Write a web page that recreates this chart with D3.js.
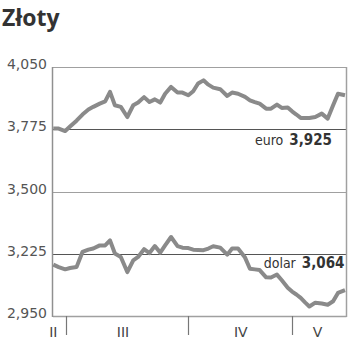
<!DOCTYPE html>
<html>
<head>
<meta charset="utf-8">
<script src="https://cdn.jsdelivr.net/npm/d3@7"></script>
<style>
    body { margin: 0; background: #fff; }
    svg { display: block; }
</style>
</head>
<body>
<svg class="chart_svg" width="350" height="351"></svg>
<script>
/* Sesje (pozycja notowania na osi czasu) */
let sesje = [0, 1, 2.2, 3.1, 4.3, 5.4, 6.5, 7.4, 8.6, 9.6, 10.5, 11.4, 12.5, 13.7, 14.8, 15.7, 16.8, 17.8, 18.8, 19.8,
    20.7, 21.8, 23, 23.9, 25, 25.9, 26.8, 27.8, 28.7, 29.6, 30.9, 32.2, 33.1, 34.2, 35.5, 36.4, 37.3, 38.2, 39.4, 40.3,
    41.4, 42.3, 43.4, 44.2, 45, 45.8, 46.6, 47.4, 48.5, 49.7, 50.8, 51.8, 52.7, 54];

/* Kursy */
let euro = [3.778, 3.778, 3.767, 3.787, 3.813, 3.840, 3.862, 3.874, 3.888, 3.898, 3.940, 3.881, 3.874, 3.829, 3.881, 3.893, 3.917, 3.895, 3.907, 3.893,
    3.932, 3.962, 3.937, 3.937, 3.925, 3.943, 3.977, 3.991, 3.972, 3.959, 3.952, 3.922, 3.937, 3.932, 3.918, 3.903, 3.895, 3.888, 3.866, 3.866,
    3.884, 3.869, 3.871, 3.854, 3.840, 3.825, 3.825, 3.825, 3.829, 3.844, 3.822, 3.881, 3.932, 3.925];
let dolar = [3.177, 3.166, 3.156, 3.162, 3.166, 3.233, 3.243, 3.248, 3.262, 3.262, 3.284, 3.226, 3.211, 3.144, 3.196, 3.211, 3.245, 3.228, 3.259, 3.230,
    3.262, 3.299, 3.259, 3.252, 3.250, 3.243, 3.242, 3.241, 3.248, 3.258, 3.252, 3.221, 3.248, 3.248, 3.208, 3.159, 3.156, 3.153, 3.121, 3.120,
    3.133, 3.108, 3.075, 3.058, 3.045, 3.030, 3.010, 2.992, 3.009, 3.005, 3.000, 3.015, 3.052, 3.064];

/* Os Y */
let y_ticks = [2.950, 3.225, 3.500, 3.775, 4.050];
let dark_lines = [3.225, 3.775];

/* Miesiace */
let miesiace = ["II", "III", "IV", "V"];
let miesiace_srodek = [0, 12.9, 34.7, 48.9];
let miesiace_granice = [2.3, 24.9, 44.2];

let series = [
    {name: "euro", values: euro},
    {name: "dolar", values: dolar}
];

let fmt = function(v){ return d3.format(".3f")(v).replace(".", ","); };

let svg = d3.select("svg.chart_svg");

let m_left = 53, m_right = 346.5, m_top = 67, m_bottom = 316;

let x = d3.scaleLinear().domain([0, 54]).range([53.3, 345]);
let y = d3.scaleLinear().domain([2.95, 4.05]).range([m_bottom, m_top]);

/* Title */
svg.append("text")
    .attr("x", 2).attr("y", 26)
    .attr("font-family", "Open Sans, sans-serif")
    .attr("font-weight", "bold")
    .attr("font-size", 23)
    .attr("fill", "#333")
    .text("Złoty");

/* Grid lines */
svg.append("g").selectAll("line")
    .data(y_ticks)
    .enter()
    .append("line")
    .attr("x1", m_left).attr("x2", m_right)
    .attr("y1", function(d){ return Math.round(y(d)) + 0.5; })
    .attr("y2", function(d){ return Math.round(y(d)) + 0.5; })
    .attr("stroke", function(d){ return dark_lines.indexOf(d) !== -1 ? "#555" : "#a0a0a0"; })
    .attr("stroke-width", function(d){ return d === 2.95 ? 1.5 : 1; });

/* Frame */
svg.append("line").attr("x1", m_left - 0.5).attr("x2", m_left - 0.5).attr("y1", m_top).attr("y2", m_bottom + 1)
    .attr("stroke", "#909090").attr("stroke-width", 1.5);
svg.append("line").attr("x1", m_right).attr("x2", m_right).attr("y1", m_top).attr("y2", m_bottom + 1)
    .attr("stroke", "#a0a0a0").attr("stroke-width", 1.5);

/* Y tick labels */
svg.append("g").selectAll("text")
    .data(y_ticks)
    .enter()
    .append("text")
    .attr("x", 47)
    .attr("y", function(d){ return y(d) + 2; })
    .attr("text-anchor", "end")
    .attr("font-family", "DejaVu Sans, sans-serif")
    .attr("font-size", 14)
    .attr("fill", "#555")
    .text(fmt);

/* Month boundaries and labels */
svg.append("g").selectAll("line")
    .data(miesiace_granice)
    .enter()
    .append("line")
    .attr("x1", function(d){ return Math.round(x(d)) + 0.5; })
    .attr("x2", function(d){ return Math.round(x(d)) + 0.5; })
    .attr("y1", m_bottom).attr("y2", 335)
    .attr("stroke", "#777").attr("stroke-width", 1.2);

svg.append("g").selectAll("text")
    .data(miesiace)
    .enter()
    .append("text")
    .attr("x", function(d, i){ return x(miesiace_srodek[i]); })
    .attr("y", 337)
    .attr("text-anchor", "middle")
    .attr("font-family", "DejaVu Sans, sans-serif")
    .attr("font-size", 14)
    .attr("fill", "#444")
    .text(function(d){ return d; });

/* Lines */
let line = d3.line()
    .x(function(d, i){ return x(sesje[i]); })
    .y(function(d){ return y(d); });

svg.append("g").selectAll("path")
    .data(series)
    .enter()
    .append("path")
    .attr("d", function(s){ return line(s.values); })
    .attr("fill", "none")
    .attr("stroke", "#8a8a8a")
    .attr("stroke-width", 4)
    .attr("stroke-linejoin", "round");

/* Last value labels */
let label_pos = {euro: {x: 332, y: 144.5}, dolar: {x: 344.5, y: 268}};

series.forEach(function(s){
    let t = svg.append("text")
        .attr("x", label_pos[s.name].x)
        .attr("y", label_pos[s.name].y)
        .attr("text-anchor", "end")
        .attr("font-family", "DejaVu Sans Condensed, DejaVu Sans, sans-serif")
        .attr("font-size", 14)
        .attr("fill", "#333");
    t.append("tspan").text(s.name);
    t.append("tspan").attr("dx", 6).attr("font-weight", "bold").attr("font-size", 15)
        .text(fmt(s.values[s.values.length - 1]));
});
</script>
</body>
</html>
